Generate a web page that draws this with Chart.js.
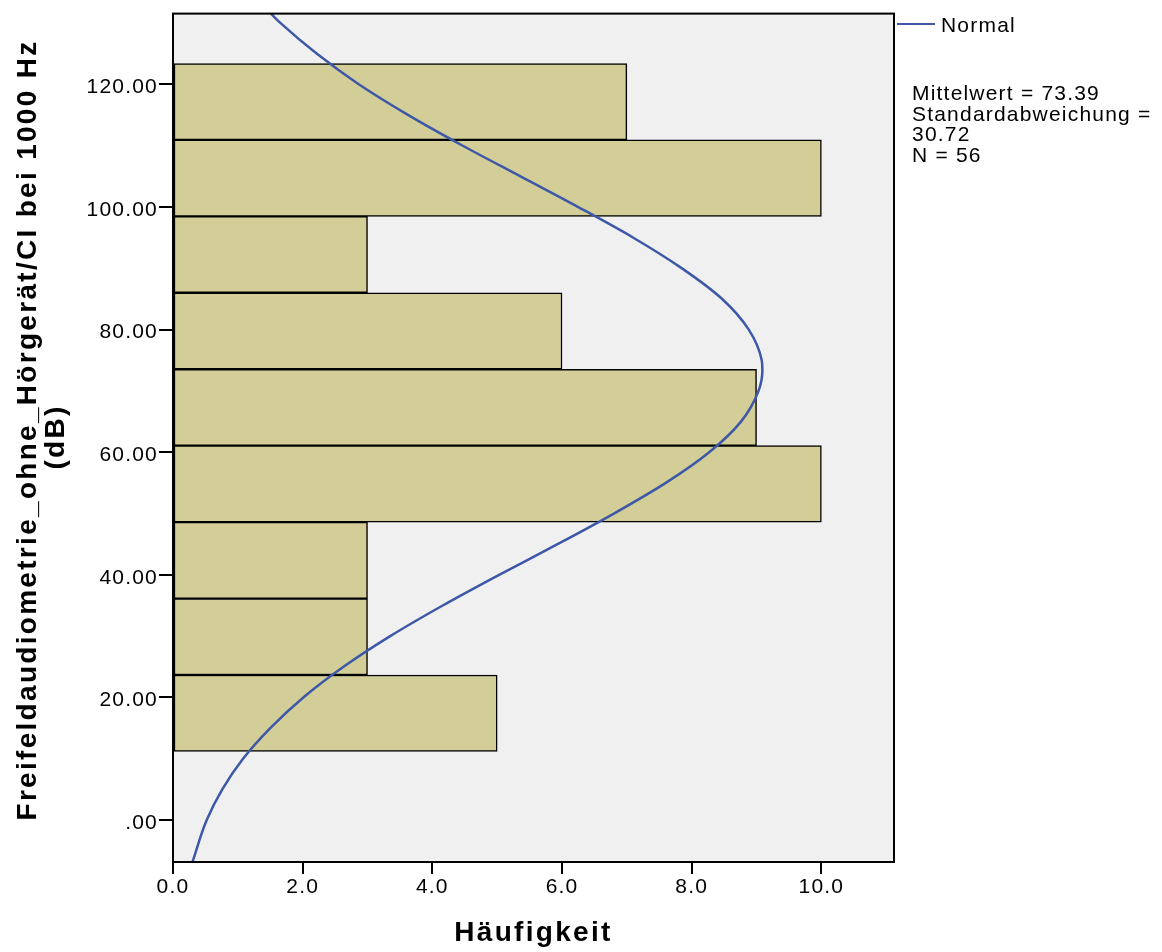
<!DOCTYPE html>
<html>
<head>
<meta charset="utf-8">
<script src="https://cdn.jsdelivr.net/npm/chart.js@4.4.0/dist/chart.umd.min.js"></script>
<style>
  html, body { margin: 0; padding: 0; background: #fff; }
</style>
</head>
<body>
<canvas id="histChart" width="1162" height="952"></canvas>
<script>
// histogram bins (centre in dB) and counts, bottom to top
const binCenters = [17.43, 29.90, 42.37, 54.84, 67.31, 79.78, 92.25, 104.72, 117.19];
const counts = [5, 3, 3, 10, 9, 6, 3, 10, 7];

// normal curve: dB value -> frequency
const curveDb = [-6.84, 0, 5, 10, 15, 20, 25, 30, 35, 40, 45, 50, 55, 60, 65,
                 70, 73.39, 75, 80, 85, 90, 95, 100, 105, 110, 115, 120, 125, 130, 131.56];
const curveFreq = [0.30, 0.52, 0.76, 1.08, 1.50, 2.01, 2.63, 3.35, 4.16, 5.03, 5.93, 6.80, 7.60, 8.27, 8.76,
                   9.03, 9.09, 9.08, 8.88, 8.47, 7.85, 7.10, 6.25, 5.36, 4.47, 3.63, 2.87, 2.22, 1.66, 1.51];

const yTicks = [0, 20, 40, 60, 80, 100, 120];
const xTicks = [0, 2, 4, 6, 8, 10];

const xTitle = 'Häufigkeit';
const yTitle = ['Freifeldaudiometrie_ohne_Hörgerät/CI bei 1000 Hz', '(dB)'];
const legendLabel = 'Normal';
const statsLines = ['Mittelwert = 73.39', 'Standardabweichung =', '30.72', 'N = 56'];

const FONT = '"Liberation Sans", Arial, sans-serif';
const BAR_COLOR = '#D3CE97';
const CURVE_COLOR = '#3E58A8';

Chart.defaults.font.family = FONT;
Chart.defaults.color = '#000';

const frame = {
    id: 'frame',
    beforeLayout(chart) {
        chart.ctx.letterSpacing = '1.2px';
    },
    beforeDraw(chart) {
        const ctx = chart.ctx;
        const a = chart.chartArea;
        ctx.letterSpacing = '1.2px';
        ctx.save();
        ctx.fillStyle = '#F0F0F0';
        ctx.fillRect(a.left, a.top, a.right - a.left, a.bottom - a.top);
        ctx.restore();
    },
    afterDraw(chart) {
        const ctx = chart.ctx;
        const a = chart.chartArea;
        ctx.save();
        ctx.strokeStyle = '#000';
        ctx.lineWidth = 2;
        ctx.strokeRect(a.left, a.top, a.right - a.left, a.bottom - a.top);

        // legend
        ctx.strokeStyle = CURVE_COLOR;
        ctx.lineWidth = 2;
        ctx.beginPath();
        ctx.moveTo(a.right + 3, 24);
        ctx.lineTo(a.right + 41, 24);
        ctx.stroke();

        ctx.fillStyle = '#000';
        ctx.font = '21px ' + FONT;
        ctx.letterSpacing = '1.2px';
        ctx.textAlign = 'left';
        ctx.textBaseline = 'alphabetic';
        ctx.fillText(legendLabel, a.right + 47, 31.5);
        statsLines.forEach((s, i) => ctx.fillText(s, 912, 100 + i * 20.5));

        // axis titles
        ctx.font = 'bold 28px ' + FONT;
        ctx.letterSpacing = '2.3px';
        ctx.textAlign = 'center';
        ctx.fillText(xTitle, (a.left + a.right) / 2, 940.5);

        ctx.rotate(-Math.PI / 2);
        ctx.fillText(yTitle[0], -430, 35.5);
        ctx.fillText(yTitle[1], -437, 64);
        ctx.restore();
    }
};

new Chart(document.getElementById('histChart'), {
    type: 'bar',
    data: {
        datasets: [{
            type: 'line',
            indexAxis: 'y',
            data: curveDb.map((v, i) => ({ x: curveFreq[i], y: v })),
            borderColor: CURVE_COLOR,
            borderWidth: 2.5,
            pointRadius: 0,
            cubicInterpolationMode: 'monotone',
            fill: false,
            order: 0
        }, {
            type: 'bar',
            indexAxis: 'y',
            data: binCenters.map((v, i) => ({ x: counts[i], y: v })),
            backgroundColor: BAR_COLOR,
            borderColor: '#000',
            borderWidth: 1.5,
            borderSkipped: false,
            categoryPercentage: 1,
            barPercentage: 1,
            order: 1
        }]
    },
    options: {
        indexAxis: 'y',
        responsive: false,
        animation: false,
        layout: { padding: { left: 0, top: 12, right: 268, bottom: 0 } },
        plugins: { legend: { display: false }, tooltip: { enabled: false } },
        scales: {
            x: {
                type: 'linear',
                min: 0,
                max: 11.12,
                afterBuildTicks: s => { s.ticks = xTicks.map(v => ({ value: v })); },
                afterFit: s => { s.height = 90; },
                grid: { drawOnChartArea: false, tickLength: 12, color: '#000', lineWidth: 2 },
                border: { color: '#000', width: 2 },
                ticks: {
                    font: { size: 21 },
                    padding: 1,
                    maxRotation: 0,
                    callback: v => v.toFixed(1)
                }
            },
            y: {
                type: 'linear',
                min: -6.84,
                max: 131.56,
                offset: false,
                afterBuildTicks: s => { s.ticks = yTicks.map(v => ({ value: v })); },
                afterFit: s => { s.width = 173; },
                grid: { offset: false, drawOnChartArea: false, tickLength: 14, color: '#000', lineWidth: 2 },
                border: { color: '#000', width: 2 },
                ticks: {
                    font: { size: 21 },
                    padding: 1,
                    labelOffset: 3,
                    callback: v => v === 0 ? '.00' : v.toFixed(2)
                }
            }
        }
    },
    plugins: [frame]
});
</script>
</body>
</html>
